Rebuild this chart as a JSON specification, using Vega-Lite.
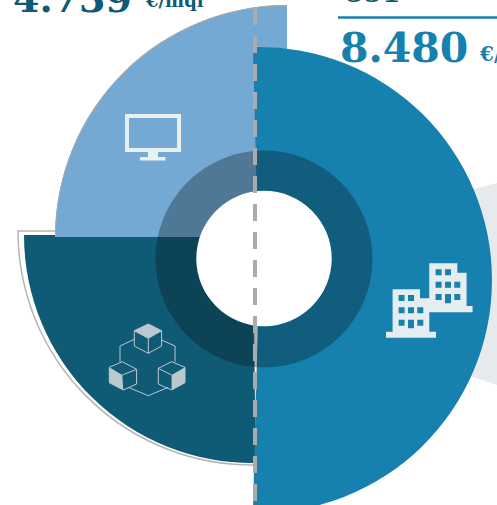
{
"$schema":"https://vega.github.io/schema/vega-lite/v6.json",
"width":497,"height":505,"autosize":"none","padding":0,"background":"white",
"config":{"view":{"stroke":null},"axis":{"disable":true},"legend":{"disable":true}},
"resolve":{"scale":{"x":"shared","y":"shared","theta":"shared","radius":"shared"}},
"layer":[
{"data":{"values":[{"segment":"backdrop","start":75.4,"end":108.3,"outer":420,"inner":0}]},"mark":{"type":"arc","fill":"#e6eaed"},
"encoding":{"x":{"datum":155,"type":"quantitative","scale":{"domain":[0,497],"nice":false}},"y":{"datum":272,"type":"quantitative","scale":{"domain":[0,505],"range":[0,505],"nice":false}},"theta":{"field":"start","type":"quantitative","stack":null,"scale":{"domain":[0,360],"range":[0,6.283185]}},"theta2":{"field":"end"},"radius":{"field":"outer","type":"quantitative","scale":{"type":"linear","domain":[0,500],"range":[0,500]}},"radius2":{"field":"inner"}}},
{"data":{"values":[{"segment":"outline","start":179,"end":270,"outer":234,"inner":0}]},"mark":{"type":"arc","fill":"white","stroke":"#b5b5b5","strokeWidth":1.5},
"encoding":{"x":{"datum":252,"type":"quantitative"},"y":{"datum":231,"type":"quantitative"},"theta":{"field":"start","type":"quantitative","stack":null},"theta2":{"field":"end"},"radius":{"field":"outer","type":"quantitative"},"radius2":{"field":"inner"}}},
{"data":{"values":[{"segment":"cubes","start":179,"end":270,"outer":228,"inner":0}]},"mark":{"type":"arc","fill":"#0f5a75"},
"encoding":{"x":{"datum":252,"type":"quantitative"},"y":{"datum":235,"type":"quantitative"},"theta":{"field":"start","type":"quantitative","stack":null},"theta2":{"field":"end"},"radius":{"field":"outer","type":"quantitative"},"radius2":{"field":"inner"}}},
{"data":{"values":[{"segment":"monitor","start":270,"end":360,"outer":232,"inner":0}]},"mark":{"type":"arc","fill":"#74a9d3"},
"encoding":{"x":{"datum":287,"type":"quantitative"},"y":{"datum":237,"type":"quantitative"},"theta":{"field":"start","type":"quantitative","stack":null},"theta2":{"field":"end"},"radius":{"field":"outer","type":"quantitative"},"radius2":{"field":"inner"}}},
{"data":{"values":[{"segment":"monitor edge","start":270,"end":360,"outer":232,"inner":231}]},"mark":{"type":"arc","fill":"#a9a9a9"},
"encoding":{"x":{"datum":287,"type":"quantitative"},"y":{"datum":237,"type":"quantitative"},"theta":{"field":"start","type":"quantitative","stack":null},"theta2":{"field":"end"},"radius":{"field":"outer","type":"quantitative"},"radius2":{"field":"inner"}}},
{"data":{"values":[{"segment":"buildings","start":-1.5,"end":181.5,"outer":233,"inner":0}]},"mark":{"type":"arc","fill":"#1681ae"},
"encoding":{"x":{"datum":259,"type":"quantitative"},"y":{"datum":280,"type":"quantitative"},"theta":{"field":"start","type":"quantitative","stack":null},"theta2":{"field":"end"},"radius":{"field":"outer","type":"quantitative"},"radius2":{"field":"inner"}}},
{"data":{"values":[{"segment":"ring","start":0,"end":360,"outer":108.5,"inner":67.5}]},"mark":{"type":"arc","fill":"#06141c","fillOpacity":0.33},
"encoding":{"x":{"datum":264,"type":"quantitative"},"y":{"datum":259,"type":"quantitative"},"theta":{"field":"start","type":"quantitative","stack":null},"theta2":{"field":"end"},"radius":{"field":"outer","type":"quantitative"},"radius2":{"field":"inner"}}},
{"data":{"values":[{"segment":"hole","start":0,"end":360,"outer":67.7,"inner":0}]},"mark":{"type":"arc","fill":"white"},
"encoding":{"x":{"datum":264,"type":"quantitative"},"y":{"datum":258.5,"type":"quantitative"},"theta":{"field":"start","type":"quantitative","stack":null},"theta2":{"field":"end"},"radius":{"field":"outer","type":"quantitative"},"radius2":{"field":"inner"}}},
{"data":{"values":[{"line":"divider"}]},"mark":{"type":"rule","stroke":"#ababab","strokeWidth":4,"strokeDash":[17,11]},
"encoding":{"x":{"datum":255,"type":"quantitative"},"y":{"datum":8,"type":"quantitative"},"y2":{"datum":505}}},
{"data":{"values":[{"line":"heading rule"}]},"mark":{"type":"rule","stroke":"#1681ae","strokeWidth":2.5},
"encoding":{"x":{"datum":338,"type":"quantitative"},"x2":{"datum":497},"y":{"datum":17.5,"type":"quantitative"}}},
{"data":{"values":[{"icon":"monitor"}]},"mark":{"type":"point","filled":true,"opacity":1,"size":4,"color":"#e9f0f4","shape":"M-28,-23H28V15H-28ZM-24,-19V11H24V-19ZM-5,15H5V20H12.5V23.5H-13V20H-5Z"},
"encoding":{"x":{"datum":153,"type":"quantitative"},"y":{"datum":137,"type":"quantitative"}}},
{"data":{"values":[{"icon":"cubes"}]},"mark":{"type":"point","filled":true,"opacity":1,"size":4,"color":"#bcc8cf","shape":"M-13,-29.3L1,-36L14.3,-29.3L1,-21.7ZM-38,7.3L-25,15L-24,30L-38,22.7ZM24.3,15L37.7,7.3L37.7,22.7L24.3,30Z"},
"encoding":{"x":{"datum":147.3,"type":"quantitative"},"y":{"datum":360,"type":"quantitative"}}},
{"data":{"values":[{"icon":"cubes"}]},"mark":{"type":"point","filled":false,"opacity":1,"size":4,"strokeWidth":1,"color":"#bcc8cf","shape":"M-13,-29.3L1,-36L14.3,-29.3L14.3,-14L1,-6.7L-13,-14ZM-13,-29.3L1,-21.7L14.3,-29.3M1,-21.7L1,-6.7M-38,7.3L-25,1.7L-10.7,9.3L-10.7,24L-24,30L-38,22.7ZM-25,15L-10.7,9.3M11,8.3L24.3,1.7L37.7,7.3L37.7,22.7L24.3,30L11,24ZM11,8.3L24.3,15M-13,-20.7L-27.3,-14L-27.3,1.7M14.3,-20L27.7,-14L27.7,1.7M-19,27.3L1,35.7L21,27.3"},
"encoding":{"x":{"datum":147.3,"type":"quantitative"},"y":{"datum":360,"type":"quantitative"}}},
{"data":{"values":[{"icon":"buildings"}]},"mark":{"type":"point","filled":true,"opacity":1,"size":4,"color":"#e6edf0","shape":"M0,-36.7H28V-27.3H37.3V6H43.3V12.3H0ZM6.3,-30.7V-24.7H12.3V-30.7ZM15.7,-30.7V-24.7H21.7V-30.7ZM6.3,-18.3V-12.3H12.3V-18.3ZM15.7,-18.3V-12.3H21.7V-18.3ZM25,-18.3V-12.3H31V-18.3ZM6.3,-6V0H12.3V-6ZM15.7,-6V3.3H21.7V-6ZM25,-6V0H31V-6ZM-36.7,-10.7H-9.3V-1.7H0V31.7H6.7V37.7H-43.3V31.7H-36.7ZM-30.7,-5V1H-24.7V-5ZM-21.3,-5V1H-15.3V-5ZM-30.7,7.3V13.3H-24.7V7.3ZM-21.3,7.3V13.3H-15.3V7.3ZM-12,7.3V13.3H-6V7.3ZM-30.7,19.7V25.7H-24.7V19.7ZM-21.3,19.7V28.3H-15.3V19.7ZM-12,19.7V25.7H-6V19.7Z"},
"encoding":{"x":{"datum":429.3,"type":"quantitative"},"y":{"datum":300,"type":"quantitative"}}},
{"data":{"values":[{"label":"4.739"}]},"mark":{"type":"text","font":"DejaVu Serif","fontWeight":"bold","fontSize":38,"align":"left","baseline":"alphabetic","color":"#0f5a75"},
"encoding":{"text":{"field":"label"},"x":{"datum":13,"type":"quantitative"},"y":{"datum":12,"type":"quantitative"}}},
{"data":{"values":[{"label":"€/mql"}]},"mark":{"type":"text","font":"DejaVu Serif","fontWeight":"bold","fontSize":18,"align":"left","baseline":"alphabetic","color":"#0f5a75"},
"encoding":{"text":{"field":"label"},"x":{"datum":146,"type":"quantitative"},"y":{"datum":7,"type":"quantitative"}}},
{"data":{"values":[{"label":"551"}]},"mark":{"type":"text","font":"DejaVu Serif","fontWeight":"bold","fontSize":26,"align":"left","baseline":"alphabetic","color":"#0f5a75"},
"encoding":{"text":{"field":"label"},"x":{"datum":346,"type":"quantitative"},"y":{"datum":2,"type":"quantitative"}}},
{"data":{"values":[{"label":"8.480"}]},"mark":{"type":"text","font":"DejaVu Serif","fontWeight":"bold","fontSize":41,"align":"left","baseline":"alphabetic","color":"#1681ae"},
"encoding":{"text":{"field":"label"},"x":{"datum":340,"type":"quantitative"},"y":{"datum":62,"type":"quantitative"}}},
{"data":{"values":[{"label":"€/mql"}]},"mark":{"type":"text","font":"DejaVu Serif","fontWeight":"bold","fontSize":20,"align":"left","baseline":"alphabetic","color":"#1681ae"},
"encoding":{"text":{"field":"label"},"x":{"datum":480,"type":"quantitative"},"y":{"datum":61,"type":"quantitative"}}}
]}
